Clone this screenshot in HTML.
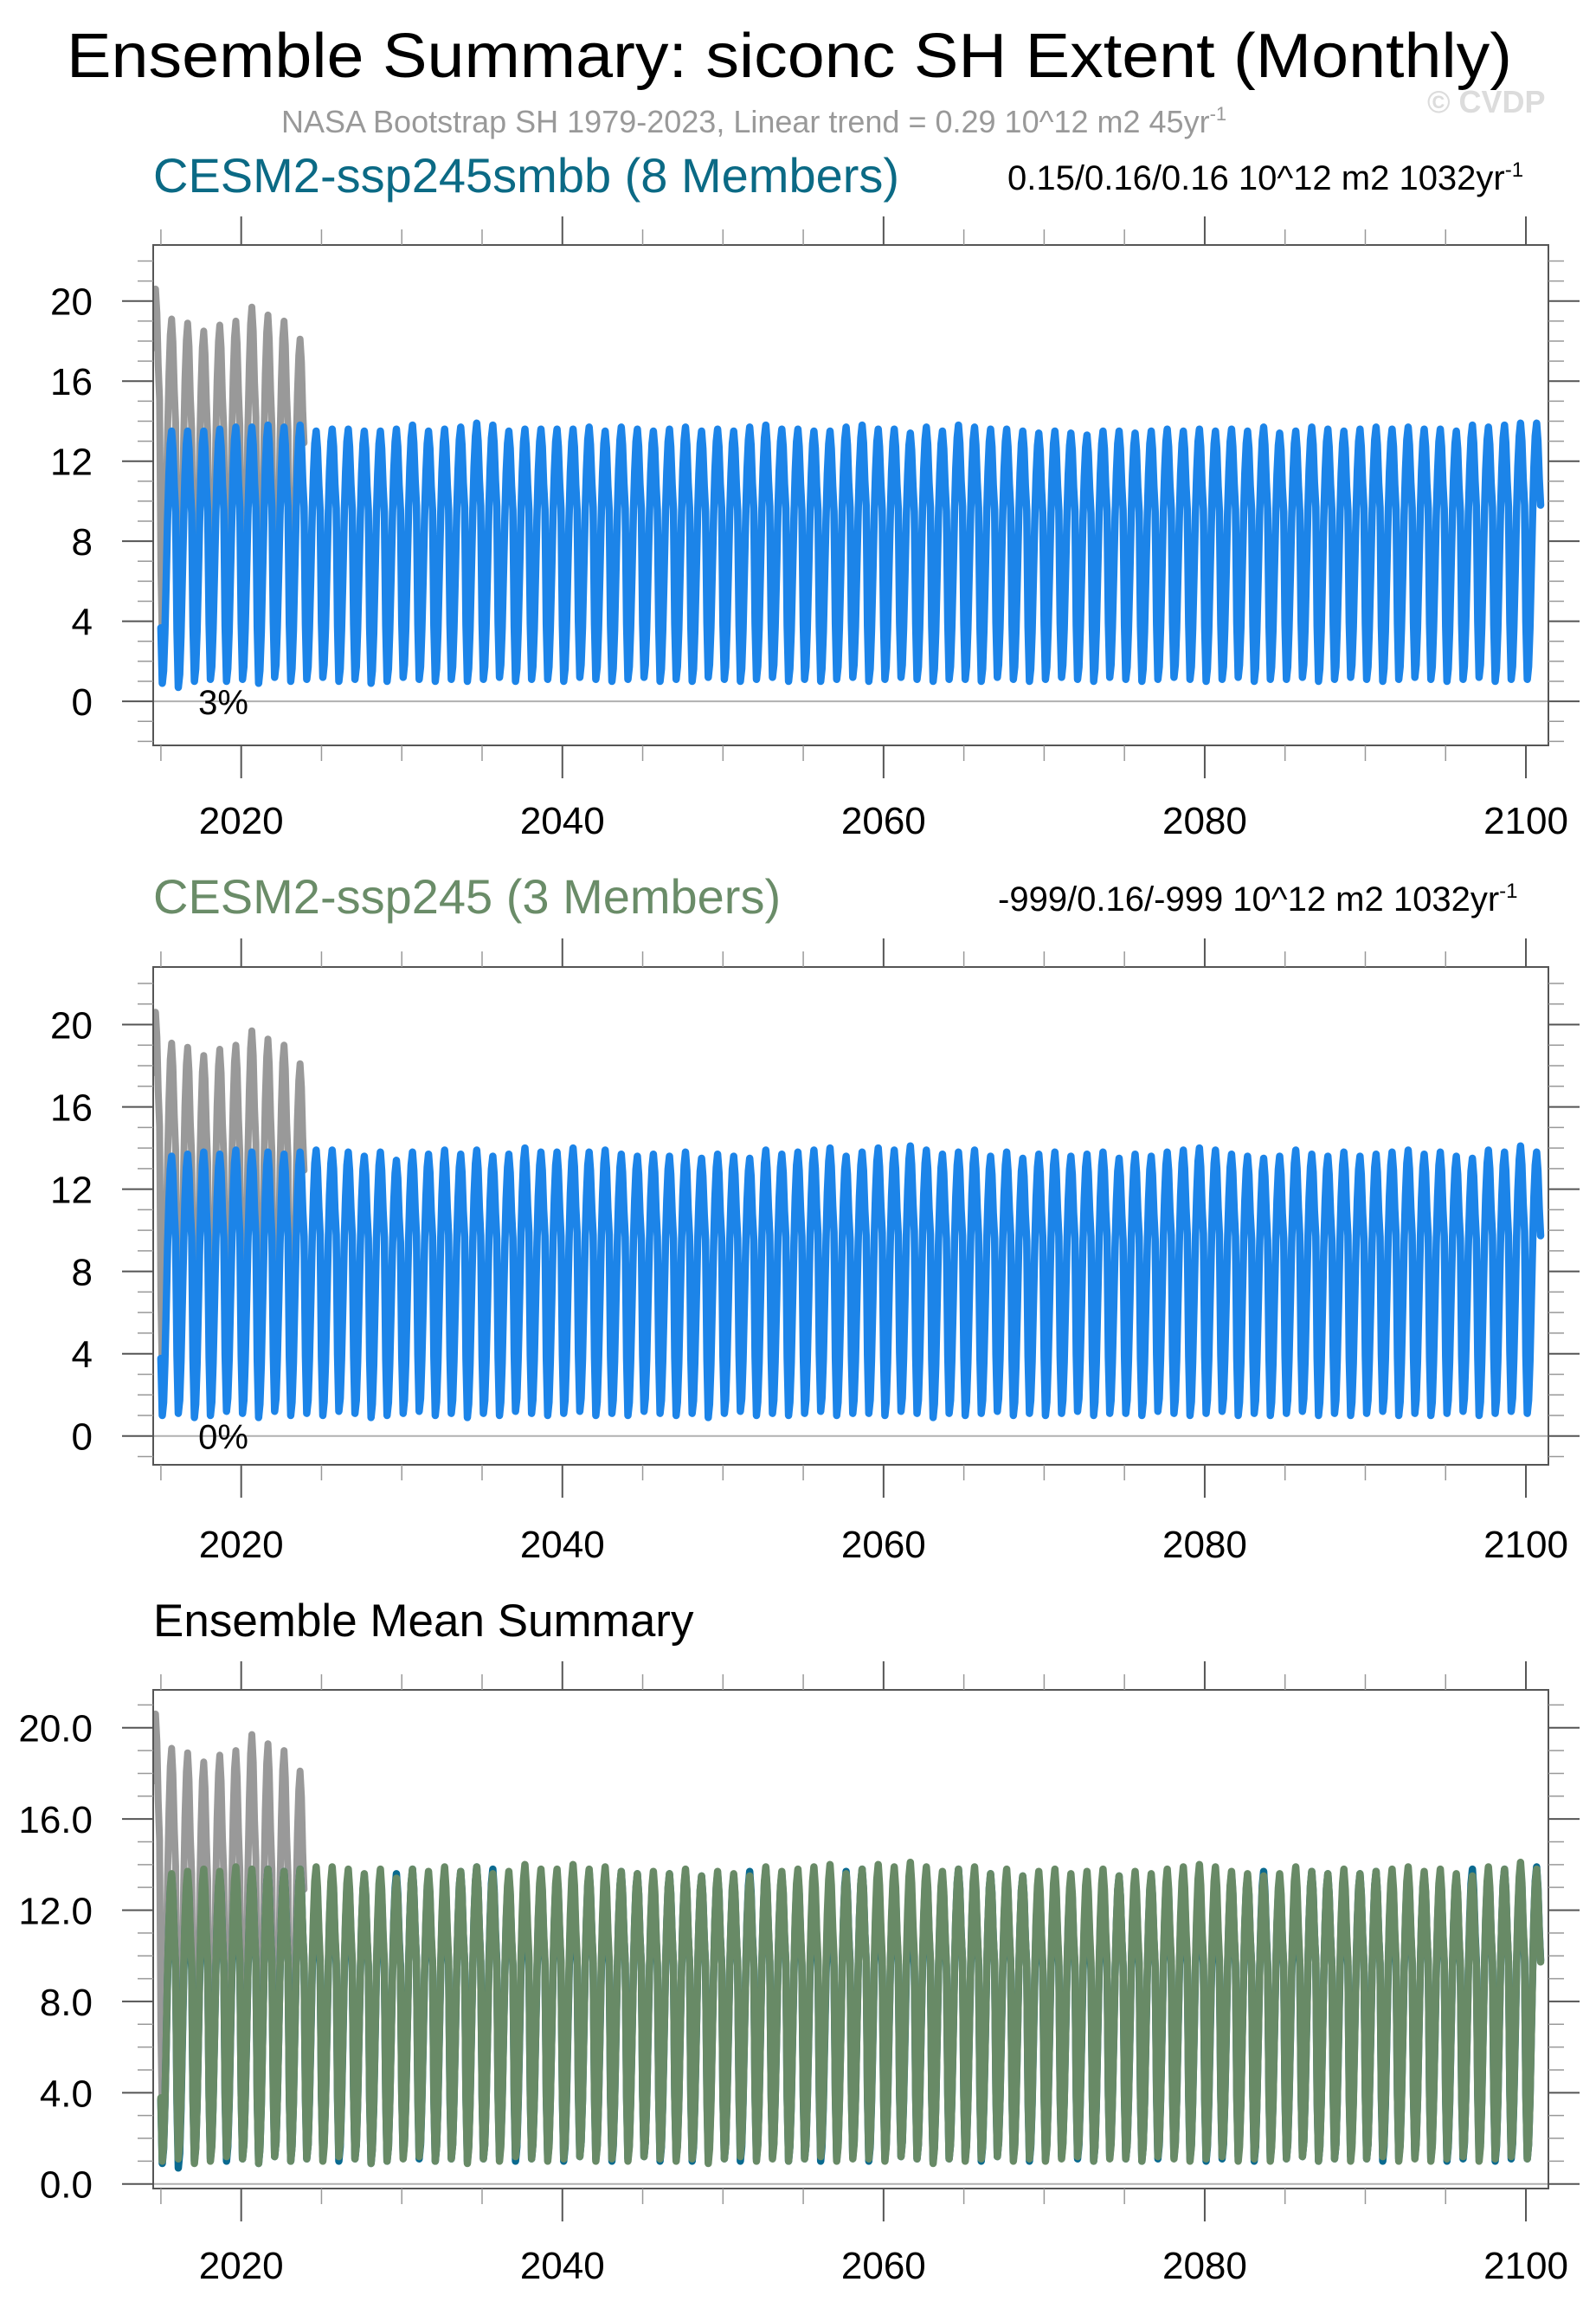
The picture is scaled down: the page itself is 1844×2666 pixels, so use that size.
<!DOCTYPE html>
<html><head><meta charset="utf-8"><title>Ensemble Summary: siconc SH Extent (Monthly)</title>
<style>
html,body{margin:0;padding:0;background:#fff;}
svg{display:block;font-family:"Liberation Sans",Arial,sans-serif;}
</style></head>
<body>
<svg id="fig" xmlns="http://www.w3.org/2000/svg" width="1844" height="2666" viewBox="0 0 1844 2666">
<text x="77" y="89" font-size="72" textLength="1670" lengthAdjust="spacingAndGlyphs" fill="#000">Ensemble Summary: siconc SH Extent (Monthly)</text>
<text x="325" y="153" font-size="36" fill="#999">NASA Bootstrap SH 1979-2023, Linear trend = 0.29 10^12 m2 45yr<tspan dy="-14" font-size="22">-1</tspan></text>
<text x="1649" y="130" font-size="36" font-weight="bold" fill="#dcdcdc">© CVDP</text>
<text x="177" y="222" font-size="56" fill="#0b6a85">CESM2-ssp245smbb (8 Members)</text>
<text x="1164" y="219" font-size="40" fill="#000">0.15/0.16/0.16 10^12 m2 1032yr<tspan dy="-15" font-size="24">-1</tspan></text>
<text x="177" y="1055" font-size="56" fill="#6a8c68">CESM2-ssp245 (3 Members)</text>
<text x="1153" y="1052" font-size="40" fill="#000">-999/0.16/-999 10^12 m2 1032yr<tspan dy="-15" font-size="24">-1</tspan></text>
<text x="177" y="1890" font-size="53" fill="#000">Ensemble Mean Summary</text>
</svg>
<script>
// ---- data (10^12 m2) ----
const modelStartYear = 2015;
const modelEndYear = 2100;
const seasonShape = [0.22,0.0,0.05,0.2,0.42,0.65,0.83,0.95,1.0,0.93,0.78,0.68];
const smbbMax = [13.5,13.5,13.5,13.6,13.7,13.7,13.8,13.7,13.8,13.5,
13.6,13.6,13.5,13.5,13.6,13.8,13.5,13.6,13.7,13.9,
13.8,13.5,13.6,13.6,13.6,13.6,13.7,13.5,13.7,13.6,
13.5,13.6,13.7,13.5,13.6,13.5,13.7,13.8,13.6,13.6,
13.5,13.5,13.7,13.8,13.6,13.6,13.4,13.7,13.5,13.8,
13.7,13.6,13.6,13.5,13.4,13.5,13.4,13.3,13.5,13.5,
13.4,13.5,13.6,13.5,13.6,13.5,13.6,13.5,13.7,13.4,
13.5,13.7,13.6,13.5,13.6,13.7,13.6,13.7,13.6,13.6,
13.5,13.8,13.7,13.8,13.9,13.9];
const smbbMin = [0.9,0.7,1.0,1.1,1.0,1.1,0.9,1.2,1.0,1.1,
1.2,1.0,1.1,0.9,1.0,1.2,1.1,1.0,1.1,1.0,
1.1,1.2,1.0,1.1,1.1,1.0,1.2,1.1,1.0,1.1,
1.2,1.0,1.1,1.0,1.2,1.1,1.0,1.1,1.2,1.0,
1.1,1.0,1.1,1.2,1.0,1.1,1.2,1.1,1.0,1.1,
1.1,1.0,1.2,1.1,1.0,1.1,1.2,1.1,1.0,1.2,
1.1,1.0,1.1,1.2,1.1,1.0,1.1,1.2,1.0,1.1,
1.1,1.2,1.0,1.1,1.2,1.1,1.0,1.1,1.2,1.1,
1.0,1.1,1.2,1.0,1.1,1.1];
const ssp245Max = [13.6,13.7,13.8,13.7,13.9,13.8,13.8,13.7,13.8,13.9,
13.9,13.8,13.6,13.8,13.4,13.8,13.7,13.9,13.7,13.9,
13.6,13.7,14.0,13.8,13.8,14.0,13.8,13.9,13.7,13.6,
13.7,13.6,13.8,13.5,13.7,13.6,13.5,13.9,13.7,13.8,
13.9,14.0,13.6,13.8,14.0,13.9,14.1,13.9,13.7,13.8,
13.9,13.6,13.8,13.5,13.7,13.8,13.6,13.7,13.8,13.5,
13.7,13.6,13.8,13.9,14.0,13.9,13.7,13.6,13.5,13.6,
13.9,13.7,13.6,13.8,13.6,13.7,13.8,13.9,13.7,13.8,
13.6,13.5,13.9,13.8,14.1,13.8];
const ssp245Min = [1.0,1.1,0.9,1.0,1.2,1.1,0.9,1.2,1.0,1.1,
1.0,1.2,1.1,0.9,1.0,1.1,1.2,1.0,1.1,0.9,
1.1,1.0,1.2,1.1,1.0,1.1,1.2,1.0,1.1,1.0,
1.2,1.1,1.0,1.1,0.9,1.1,1.2,1.0,1.1,1.0,
1.1,1.2,1.0,1.1,1.1,1.0,1.2,1.1,0.9,1.1,
1.0,1.1,1.2,1.0,1.1,1.0,1.1,1.2,1.0,1.1,
1.1,1.0,1.2,1.1,1.0,1.1,1.2,1.0,1.1,1.0,
1.1,1.2,1.0,1.1,1.0,1.1,1.2,1.0,1.1,1.0,
1.1,1.2,1.0,1.1,1.2,1.1];
const obsYears = [2014,2015,2016,2017,2018,2019,2020,2021,2022,2023];
const obsMax = [20.6,19.1,18.9,18.5,18.8,19.0,19.7,19.3,19.0,18.1];
const obsMin = [3.3,3.0,2.3,2.2,2.5,2.7,2.6,2.0,1.9,1.9];
const obsStartMonth = 6;   // July 2014
const xMajorTicks = [2020,2040,2060,2080,2100];
const xMinorTicks = [2015,2025,2030,2035,2045,2050,2055,2065,2070,2075,2085,2090,2095];
const panel1Pct = "3%";
const panel2Pct = "0%";

const NS = "http://www.w3.org/2000/svg";
const svg = document.getElementById('fig');
const X0 = 177, X1 = 1789, XMIN = 2014.52, XMAX = 2101.4;
function xs(t){ return X0 + (t - XMIN) * (X1 - X0) / (XMAX - XMIN); }
function mk(tag, attrs, parent){ const e = document.createElementNS(NS, tag); for (const k in attrs) e.setAttribute(k, attrs[k]); (parent||svg).appendChild(e); return e; }

function monthly(maxArr, minArr, startYear, startMonth, endYear){
  const pts = [];
  for (let i = 0; i < maxArr.length && i < minArr.length; i++){
    const yr = startYear + i;
    if (yr > endYear) break;
    for (let m = (i===0?startMonth:0); m < 12; m++){
      pts.push([yr + m/12, minArr[i] + seasonShape[m]*(maxArr[i]-minArr[i])]);
    }
  }
  return pts;
}

function panel(cfg){
  const g = mk('g', {});
  
  
  const ys = v => cfg.bot - (v - cfg.ymin) * (cfg.bot - cfg.top) / (cfg.ymax - cfg.ymin);
  const clipId = cfg.name + '-clip';
  const cp = mk('clipPath', {id: clipId}, g);
  mk('rect', {x: X0, y: cfg.top, width: X1-X0, height: cfg.bot-cfg.top}, cp);
  const zl = mk('line', {x1:X0, x2:X1, y1:ys(0), y2:ys(0), stroke:'#b0b0b0', 'stroke-width':2}, g);
  
  
  const sg = mk('g', {'clip-path': 'url(#'+clipId+')'}, g);
  cfg.series.forEach(s => {
    const d = s.pts.map((p,i)=> (i?'L':'M') + xs(p[0]).toFixed(1) + ' ' + ys(p[1]).toFixed(1)).join('');
    const p = mk('path', {d, fill:'none', stroke:s.color, 'stroke-width':s.w, 'stroke-linejoin':'round', 'stroke-linecap':'round'}, sg);
    
    
  });
  const br = mk('rect', {x:X0, y:cfg.top, width:X1-X0, height:cfg.bot-cfg.top, fill:'none', stroke:'#555', 'stroke-width':2}, g);
  
  
  for (let v = Math.ceil(cfg.ymin); v <= cfg.ymax; v++){
    const major = v % 4 === 0;
    const L = major ? 36 : 18;
    const y = ys(v);
    mk('line', {x1:X0-L, x2:X0, y1:y, y2:y, stroke: major?'#555':'#999', 'stroke-width': major?2:1.5}, g);
    mk('line', {x1:X1, x2:X1+L, y1:y, y2:y, stroke: major?'#555':'#999', 'stroke-width': major?2:1.5}, g);
    if (major){
      const t = mk('text', {x:107, y:y+16, 'font-size':44, 'text-anchor':'end', fill:'#000'}, g);
      
      
      t.textContent = cfg.dec ? v.toFixed(1) : String(v);
    }
  }
  xMajorTicks.forEach(yr => {
    const x = xs(yr);
    mk('line', {x1:x, x2:x, y1:cfg.top-33, y2:cfg.top, stroke:'#555', 'stroke-width':2}, g);
    mk('line', {x1:x, x2:x, y1:cfg.bot, y2:cfg.bot+38, stroke:'#555', 'stroke-width':2}, g);
    const t = mk('text', {x:x, y:cfg.labY, 'font-size':44, 'text-anchor':'middle', fill:'#000'}, g);
    
    
    t.textContent = String(yr);
  });
  xMinorTicks.forEach(yr => {
    const x = xs(yr);
    mk('line', {x1:x, x2:x, y1:cfg.top-18, y2:cfg.top, stroke:'#999', 'stroke-width':1.5}, g);
    mk('line', {x1:x, x2:x, y1:cfg.bot, y2:cfg.bot+18, stroke:'#999', 'stroke-width':1.5}, g);
  });
  if (cfg.pct){
    const t = mk('text', {x:258, y:ys(0)+15, 'font-size':40, 'text-anchor':'middle', fill:'#000'}, g);
    
    
    t.textContent = cfg.pct;
  }
}

const obsPts = monthly(obsMax, obsMin, obsYears[0], obsStartMonth, 2023);
const smbbPts = monthly(smbbMax, smbbMin, modelStartYear, 0, modelEndYear);
const sspPts = monthly(ssp245Max, ssp245Min, modelStartYear, 0, modelEndYear);

panel({name:'panel1-ssp245smbb', top:283, bot:861, ymin:-2.2, ymax:22.8, labY:963, pct:panel1Pct, dec:false,
  series:[{name:'obs-line', pts:obsPts, color:'#999999', w:8},
          {name:'ssp245smbb-line', pts:smbbPts, color:'#1c84e8', w:8.5}]});
panel({name:'panel2-ssp245', top:1117, bot:1692, ymin:-1.4, ymax:22.8, labY:1799, pct:panel2Pct, dec:false,
  series:[{name:'obs-line', pts:obsPts, color:'#999999', w:8},
          {name:'ssp245-line', pts:sspPts, color:'#1c84e8', w:8.5}]});
panel({name:'panel3-ensemble-mean', top:1952, bot:2528, ymin:-0.2, ymax:21.66, labY:2632, pct:null, dec:true,
  series:[{name:'obs-line', pts:obsPts, color:'#999999', w:8},
          {name:'ssp245smbb-mean-line', pts:smbbPts, color:'#0a6a90', w:8.5},
          {name:'ssp245-mean-line', pts:sspPts, color:'#688a66', w:8.5}]});
</script>
</body></html>
